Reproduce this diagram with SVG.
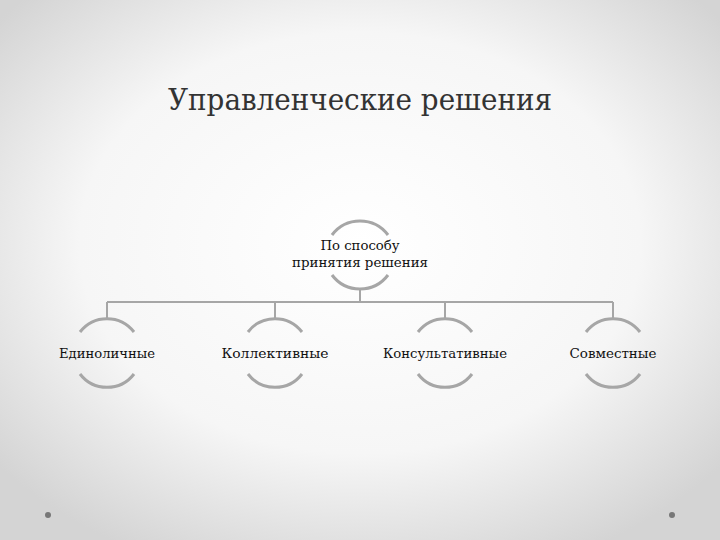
<svg xmlns="http://www.w3.org/2000/svg" width="720" height="540" viewBox="0 0 720 540">
<defs>
<radialGradient id="bg" cx="50%" cy="45%" r="65%">
<stop offset="0" stop-color="#ffffff"/><stop offset="0.6" stop-color="#f6f6f6"/><stop offset="1" stop-color="#d4d4d4"/>
</radialGradient>
<style>
.arc{fill:none;stroke:#a6a6a6;stroke-width:3}
.ln{fill:none;stroke:#a6a6a6;stroke-width:2}
.t{font-family:"DejaVu Serif","Liberation Serif",serif;font-size:13px;fill:#111;text-anchor:middle}
</style>
</defs>
<rect width="720" height="540" fill="url(#bg)"/>
<circle cx="48" cy="515" r="3" fill="#777"/>
<circle cx="672" cy="515" r="3" fill="#777"/>
<text x="360" y="110" font-family="DejaVu Serif, Liberation Serif, serif" font-size="29" fill="#333" text-anchor="middle" textLength="384" lengthAdjust="spacingAndGlyphs">Управленческие решения</text>
<g id="connectors">
<path class="ln" d="M360 290V302M107 302H613M107 302V318M275 302V318M445 302V318M613 302V318"/>
</g>
<g id="root">
<path class="arc" d="M332 235A35 35 0 0 1 388 235M332 275A35 35 0 0 0 388 275"/>
<text class="t" x="360" y="250" textLength="79" lengthAdjust="spacingAndGlyphs">По способу</text>
<text class="t" x="360" y="267" textLength="136" lengthAdjust="spacingAndGlyphs">принятия решения</text>
</g>
<g id="n1"><path class="arc" d="M80 332A34 34 0 0 1 134 332M80 374A34 34 0 0 0 134 374"/><text class="t" x="107" y="358" textLength="96" lengthAdjust="spacingAndGlyphs">Единоличные</text></g>
<g id="n2"><path class="arc" d="M248 332A34 34 0 0 1 302 332M248 374A34 34 0 0 0 302 374"/><text class="t" x="275" y="358" textLength="107" lengthAdjust="spacingAndGlyphs">Коллективные</text></g>
<g id="n3"><path class="arc" d="M418 332A34 34 0 0 1 472 332M418 374A34 34 0 0 0 472 374"/><text class="t" x="445" y="358" textLength="124" lengthAdjust="spacingAndGlyphs">Консультативные</text></g>
<g id="n4"><path class="arc" d="M586 332A34 34 0 0 1 640 332M586 374A34 34 0 0 0 640 374"/><text class="t" x="613" y="358" textLength="87" lengthAdjust="spacingAndGlyphs">Совместные</text></g>
</svg>
